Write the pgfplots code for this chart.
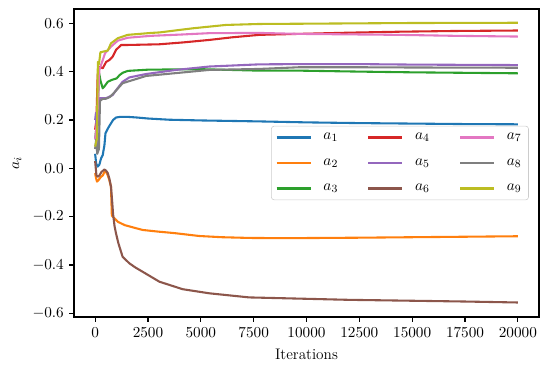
\documentclass[border=0pt]{standalone}
\usepackage{pgfplots}
\pgfplotsset{compat=1.18}
\definecolor{c0}{HTML}{1F77B4}
\definecolor{c1}{HTML}{FF7F0E}
\definecolor{c2}{HTML}{2CA02C}
\definecolor{c3}{HTML}{D62728}
\definecolor{c4}{HTML}{9467BD}
\definecolor{c5}{HTML}{8C564B}
\definecolor{c6}{HTML}{E377C2}
\definecolor{c7}{HTML}{7F7F7F}
\definecolor{c8}{HTML}{BCBD22}
\begin{document}
\fontsize{11}{13.2}\selectfont
\begin{tikzpicture}
\useasboundingbox (-53.28pt,-39.6pt) rectangle (341.28pt,228.24pt);
\begin{axis}[
  at={(0pt,0pt)}, anchor=south west,
  scale only axis, width=334.8pt, height=221.76pt,
  xmin=-1000, xmax=21000, ymin=-0.615, ymax=0.659,
  xtick={0,2500,5000,7500,10000,12500,15000,17500,20000},
  ytick={-0.6,-0.4,-0.2,0,0.2,0.4,0.6},
  xticklabel style={/pgf/number format/1000 sep={}},
  yticklabel style={/pgf/number format/fixed,/pgf/number format/fixed zerofill,/pgf/number format/precision=1},
  scaled x ticks=false, scaled y ticks=false,
  tick align=outside, xtick pos=left, ytick pos=left,
  major tick length=3.5pt,
  every tick/.style={black, line width=0.8pt},
  axis line style={line width=0.8pt},
  xlabel={Iterations}, ylabel={$a_i$},
  xlabel style={at={(axis description cs:0.5,-0.12)}, anchor=center},
  ylabel style={at={(axis description cs:-0.1226,0.5)}, anchor=center, rotate=0},
  every axis plot/.append style={line width=1.5pt, line join=round},
  legend columns=3, transpose legend,
  legend cell align=left,
  legend image code/.code={\draw[#1] (0pt,0pt) -- (24.5pt,0pt);},
  legend style={at={(axis description cs:0.978,0.5)}, anchor=east,
    draw=black!20, rounded corners=2pt, fill=white, fill opacity=0.8, text opacity=1,
    inner sep=3pt, row sep=8pt, font=\fontsize{11}{13.2}\selectfont,
    /tikz/every odd column/.append style={column sep=6.5pt},
    /tikz/every even column/.append style={column sep=19pt}},
]
% a1
\addplot[c0] coordinates {(0,0.06) (50,0.02) (120,0.007) (200,0.015) (280,0.041) (360,0.055) (440,0.096) (490,0.145) (570,0.159) (650,0.172) (750,0.186) (850,0.2) (990,0.21) (1200,0.213) (1500,0.213) (2000,0.21) (2500,0.206) (3500,0.201) (5000,0.198) (7770,0.194) (10000,0.19) (12500,0.187) (15000,0.185) (17500,0.183) (20000,0.182)};
\addlegendentry{$a_1$}
% a2
\addplot[c1] coordinates {(0,-0.02) (40,-0.04) (90,-0.055) (150,-0.05) (280,-0.035) (360,-0.03) (440,-0.015) (520,-0.015) (600,-0.03) (675,-0.05) (750,-0.076) (790,-0.195) (830,-0.2) (950,-0.21) (1070,-0.221) (1400,-0.235) (1860,-0.246) (2250,-0.255) (3000,-0.262) (3750,-0.268) (4930,-0.28) (6000,-0.285) (7290,-0.288) (9000,-0.289) (12500,-0.287) (15000,-0.285) (17500,-0.283) (20000,-0.281)};
\addlegendentry{$a_2$}
% a3
\addplot[c2] coordinates {(0,0.12) (100,0.2) (190,0.393) (260,0.36) (360,0.331) (450,0.34) (600,0.358) (800,0.366) (1020,0.372) (1150,0.385) (1300,0.395) (1550,0.403) (2500,0.408) (5000,0.41) (7770,0.404) (9650,0.404) (12500,0.4) (15000,0.397) (17500,0.395) (20000,0.393)};
\addlegendentry{$a_3$}
% a4
\addplot[c3] coordinates {(0,0.16) (60,0.2) (120,0.386) (200,0.42) (360,0.414) (520,0.44) (675,0.448) (830,0.462) (990,0.49) (1230,0.51) (1460,0.51) (2000,0.511) (3040,0.513) (4200,0.521) (5400,0.531) (6500,0.542) (7770,0.552) (9650,0.556) (12000,0.561) (14380,0.565) (17000,0.568) (20000,0.570)};
\addlegendentry{$a_4$}
% a5
\addplot[c4] coordinates {(0,0.2) (40,0.23) (90,0.08) (130,0.2) (200,0.29) (520,0.29) (830,0.303) (1000,0.324) (1300,0.358) (1620,0.376) (2410,0.39) (3830,0.407) (5400,0.421) (7770,0.43) (9650,0.431) (12500,0.431) (15000,0.429) (17500,0.428) (20000,0.427)};
\addlegendentry{$a_5$}
% a6
\addplot[c5] coordinates {(0,0.03) (60,-0.028) (120,-0.035) (200,-0.03) (300,-0.015) (440,-0.005) (520,-0.01) (600,-0.02) (680,-0.045) (750,-0.076) (800,-0.13) (850,-0.19) (920,-0.24) (990,-0.27) (1100,-0.31) (1300,-0.366) (1620,-0.393) (1900,-0.41) (2250,-0.428) (3040,-0.469) (4140,-0.5) (5400,-0.517) (7290,-0.534) (9660,-0.539) (12000,-0.544) (14380,-0.547) (17500,-0.551) (20000,-0.555)};
\addlegendentry{$a_6$}
% a7
\addplot[c6] coordinates {(0,0.12) (100,0.2) (200,0.407) (470,0.476) (750,0.503) (1070,0.528) (1540,0.54) (2650,0.548) (4000,0.553) (5400,0.559) (7770,0.56) (9650,0.556) (12000,0.554) (14380,0.552) (17000,0.548) (20000,0.545)};
\addlegendentry{$a_7$}
% a8
\addplot[c7] coordinates {(0,0.08) (50,0.12) (100,0.06) (180,0.08) (230,0.28) (360,0.287) (520,0.288) (700,0.295) (870,0.31) (1300,0.352) (2410,0.382) (5400,0.407) (7770,0.411) (9650,0.418) (12500,0.418) (15000,0.417) (20000,0.416)};
\addlegendentry{$a_8$}
% a9
\addplot[c8] coordinates {(0,0.09) (80,0.12) (130,0.44) (180,0.43) (250,0.48) (400,0.483) (600,0.487) (750,0.517) (1070,0.538) (1540,0.552) (2650,0.56) (3040,0.562) (4610,0.579) (6190,0.593) (7770,0.597) (9650,0.598) (15000,0.601) (20000,0.602)};
\addlegendentry{$a_9$}
\end{axis}
\end{tikzpicture}
\end{document}
